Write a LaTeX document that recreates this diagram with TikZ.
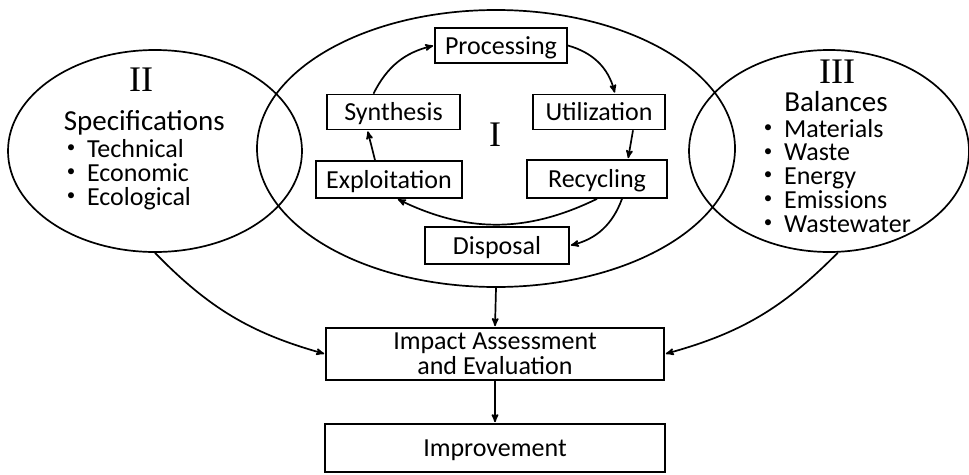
\documentclass[tikz,border=0pt]{standalone}
\usepackage{fontspec}
\setmainfont{Carlito}
\newfontfamily\romanfont{Liberation Serif}
\usetikzlibrary{arrows,shapes.geometric,positioning}
\newcommand\dotitem{\raisebox{0.18em}{\fontsize{17}{0}\selectfont\textbullet}\ \ }

\begin{document}
\begin{tikzpicture}[x=1pt,y=-1pt,>=stealth',shorten >=1pt,auto,
                    line width=1.7pt]
  \tikzstyle{stage}=[draw=black,text=black,inner sep=0pt,
                     font=\fontsize{26}{25}\selectfont]
  \tikzstyle{loopbox}=[stage,minimum height=35pt,text height=17pt,text depth=0pt]
  \tikzstyle{field}=[draw=black,ellipse,inner sep=0pt]
  \tikzstyle{numeral}=[inner sep=0pt,font=\romanfont\fontsize{36}{36}\selectfont]
  \tikzstyle{heading}=[inner sep=0pt,font=\fontsize{29}{24}\selectfont]
  \tikzstyle{listtext}=[inner sep=0pt,align=left,font=\fontsize{26}{23.7}\selectfont]

  \useasboundingbox (0,0) rectangle (969,474);

  \node[field,minimum width=478pt,minimum height=277pt] (life) at (496,148.5) {};
  \node[field,minimum width=294pt,minimum height=202pt] (spec) at (155,151) {};
  \node[field,minimum width=280pt,minimum height=202pt] (bal)  at (829,151) {};

  \node[numeral] (one)   at (495,135) {I};
  \node[numeral] (two)   at (141,80)  {II};
  \node[numeral] (three) at (837,71.5) {III};

  \node[loopbox,minimum width=132pt] (proc) at (501,45.5)  {Processing};
  \node[loopbox,minimum width=133pt] (syn)  at (393.5,112) {Synthesis};
  \node[loopbox,minimum width=132pt] (util) at (599,112)   {Utilization};
  \node[loopbox,minimum width=146pt,minimum height=37pt] (expl) at (389,179.5) {Exploitation};
  \node[loopbox,minimum width=140pt,minimum height=38pt] (rec)  at (597,179)   {Recycling};
  \node[loopbox,minimum width=144pt,minimum height=37pt] (disp) at (497,245.5) {Disposal};

  % lists: base is the last line here
  \node[heading,anchor=base west] (spechead) at (63,130) {Specifications};
  \node[listtext,anchor=base west] (speclist) at (66,205)
       {\dotitem Technical\\ \dotitem Economic\\ \dotitem Ecological};
  \node[heading,anchor=base] (balhead) at (836,111) {Balances};
  \node[listtext,anchor=base west] (ballist) at (763,232)
       {\dotitem Materials\\ \dotitem Waste\\ \dotitem Energy\\
        \dotitem Emissions\\ \dotitem Wastewater};

  \node[stage,align=center,minimum width=338pt,minimum height=52pt] (impact) at (495,354)
       {Impact Assessment\\and Evaluation};
  \node[stage,minimum width=340pt,minimum height=48pt,text height=17pt,text depth=0pt]
       (improve) at (495,448) {Improvement};

  % the cycle
  \path[->] ([xshift=-20pt]syn.north) edge[bend left=25] (proc.west)
            (proc.east) edge[bend left=30] ([xshift=16pt]util.north)
            ([xshift=34pt]util.south) edge ([xshift=31pt]rec.north)
            (rec.south) edge[bend left=26] ([xshift=8pt]expl.south)
            ([xshift=-14pt]expl.north) edge ([xshift=-26pt]syn.south)
            ([xshift=25pt]rec.south) edge[bend left=28] (disp.east);

  % towards the assessment
  \path[->] (life.south) edge (impact.north)
            (spec.south) edge[bend right=15] (impact.west)
            (bal.-85) edge[bend left=15] (impact.east)
            (impact.south) edge (improve.north);
\end{tikzpicture}
\end{document}
